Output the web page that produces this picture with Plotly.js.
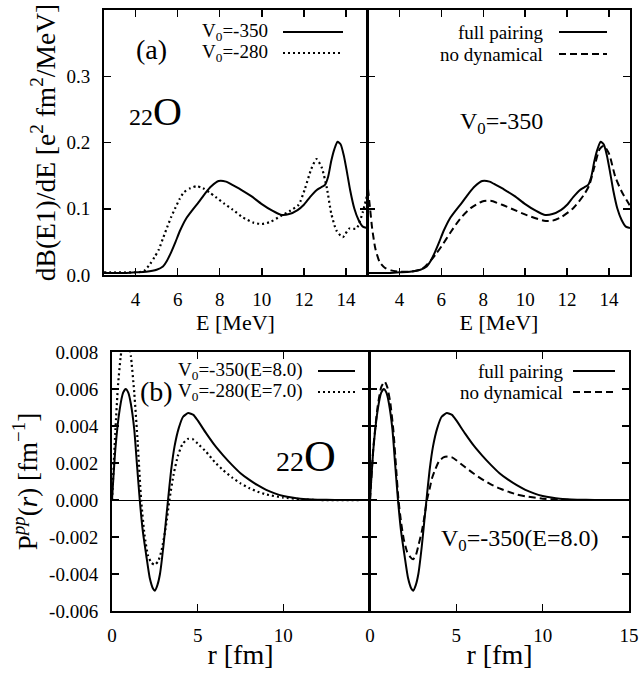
<!DOCTYPE html>
<html>
<head>
<meta charset="utf-8">
<script src="https://cdn.plot.ly/plotly-3.0.1.min.js"></script>
<style>html,body{margin:0;padding:0;background:#fff;}#chart{width:640px;height:673px;}</style>
</head>
<body>
<div id="chart"></div>
<script>
// ---------- Data: panel (a) dB(E1)/dE vs E ----------
const E_v350 = [2.5,3.0,3.5,4.0,4.5,5.0,5.3,5.5,5.7,5.9,6.1,6.4,6.7,7.0,7.3,7.6,7.95,8.3,8.6,9.0,9.5,10.0,10.5,10.9,11.3,11.7,12.0,12.3,12.6,12.8,13.0,13.15,13.3,13.45,13.6,13.75,13.9,14.05,14.2,14.4,14.6,14.8,15.0];
const B_v350 = [0.003,0.003,0.003,0.004,0.005,0.008,0.013,0.022,0.035,0.050,0.066,0.085,0.098,0.110,0.123,0.134,0.142,0.141,0.136,0.129,0.119,0.107,0.097,0.091,0.092,0.098,0.106,0.118,0.128,0.132,0.136,0.148,0.172,0.190,0.201,0.197,0.180,0.155,0.128,0.100,0.083,0.073,0.071];

const E_v280 = [2.5,3.0,3.5,4.0,4.4,4.7,4.9,5.1,5.3,5.5,5.7,5.9,6.1,6.3,6.6,6.9,7.2,7.5,7.8,8.2,8.6,9.1,9.6,10.0,10.4,10.9,11.35,11.75,12.05,12.35,12.6,12.85,13.1,13.3,13.55,13.85,14.15,14.5,14.8,15.0];
const B_v280 = [0.004,0.004,0.004,0.004,0.006,0.017,0.027,0.038,0.055,0.072,0.088,0.102,0.115,0.125,0.131,0.134,0.131,0.125,0.118,0.108,0.099,0.087,0.079,0.077,0.080,0.089,0.097,0.106,0.130,0.160,0.175,0.162,0.130,0.093,0.067,0.057,0.070,0.070,0.095,0.120];

const E_nodyn = [2.5,2.6,2.7,2.85,3.05,3.3,3.6,4.0,4.5,5.0,5.2,5.5,5.75,6.0,6.45,6.9,7.4,7.95,8.35,8.9,9.35,10.1,10.9,11.3,11.7,12.3,12.8,13.05,13.3,13.55,13.75,14.0,14.3,14.6,14.95,15.0];
const B_nodyn = [0.130,0.100,0.070,0.040,0.020,0.011,0.007,0.005,0.005,0.008,0.012,0.022,0.032,0.043,0.065,0.085,0.101,0.111,0.112,0.106,0.100,0.090,0.082,0.082,0.087,0.101,0.121,0.135,0.163,0.190,0.195,0.183,0.148,0.126,0.107,0.104];

// ---------- Data: panel (b) P^pp(r) vs r ----------
const r_v350 = [0,0.2,0.45,0.65,0.8,0.95,1.1,1.3,1.45,1.62,1.8,2.0,2.2,2.4,2.5,2.65,2.8,3.0,3.15,3.27,3.45,3.65,3.9,4.15,4.45,4.75,5.0,5.5,6.0,6.5,7.0,7.5,8.0,8.5,9.0,9.5,10.0,10.5,11.0,12.0,13.0,15.0];
const P_v350 = [0,0.0028,0.0049,0.0058,0.0060,0.0058,0.0052,0.0038,0.0020,0,-0.0017,-0.0030,-0.0042,-0.0048,-0.0049,-0.0046,-0.0040,-0.0025,-0.0011,0,0.0016,0.0029,0.0039,0.0045,0.0047,0.0046,0.0043,0.0036,0.00295,0.0024,0.0019,0.00145,0.0011,0.0008,0.00055,0.00036,0.00022,0.00013,0.00007,0.00002,0,0];

const r_v280 = [0,0.2,0.35,0.5,0.65,0.8,0.95,1.1,1.3,1.5,1.7,1.9,2.1,2.3,2.5,2.7,2.9,3.15,3.35,3.6,3.85,4.1,4.4,4.7,5.0,5.5,6.0,6.5,7.0,7.5,8.0,8.5,9.0,10.0,11.0,12.0,15.0];
const P_v280 = [0,0.0038,0.0062,0.0077,0.0087,0.0090,0.0087,0.0078,0.0058,0.0031,0,-0.0019,-0.0030,-0.0034,-0.0035,-0.0033,-0.0027,-0.0014,0,0.0014,0.0024,0.0030,0.0033,0.0033,0.00305,0.0026,0.00205,0.0016,0.00122,0.0009,0.00065,0.00045,0.0003,0.00013,0.00004,0,0];

const r_nodyn = [0,0.2,0.45,0.65,0.85,1.0,1.17,1.36,1.5,1.65,1.8,1.95,2.15,2.35,2.5,2.65,2.82,3.0,3.1,3.3,3.45,3.6,3.8,4.0,4.25,4.5,4.75,5.0,5.5,6.0,6.5,7.0,7.5,8.0,8.5,9.0,10.0,11.0,12.0,15.0];
const P_nodyn = [0,0.0029,0.0051,0.0061,0.0064,0.0061,0.0053,0.0037,0.0019,0,-0.0012,-0.0021,-0.0028,-0.0031,-0.0032,-0.0030,-0.0024,-0.0017,-0.0012,0,0.0006,0.0012,0.0017,0.0021,0.0023,0.00235,0.0023,0.00215,0.00178,0.00143,0.00112,0.00085,0.00063,0.00045,0.0003,0.0002,0.00007,0.00002,0,0];

// ---------- Labels / ticks ----------
const nameV350 = "V<sub>0</sub>=-350";
const nameV280 = "V<sub>0</sub>=-280";
const nameFull = "full pairing";
const nameNoDyn = "no dynamical";
const nameV350b = "V<sub>0</sub>=-350(E=8.0)";
const nameV280b = "V<sub>0</sub>=-280(E=7.0)";
const topYTicks = [0, 0.1, 0.2, 0.3, 0.4];
const topYText = ["0.0", "0.1", "0.2", "0.3", "0.4"];
const topXTicks = [4, 6, 8, 10, 12, 14];
const botYTicks = [-0.006, -0.004, -0.002, 0, 0.002, 0.004, 0.006, 0.008];
const botYText = ["-0.006", "-0.004", "-0.002", "0.000", "0.002", "0.004", "0.006", "0.008"];
const botXTicksL = [0, 5, 10];
const botXTicksR = [0, 5, 10, 15];

const FONT = "Liberation Serif, Times New Roman, serif";
const W = 640, H = 673;
const px = x => x / W;
const py = y => 1 - y / H;

const solidLine = {color: "black", width: 2};
const dotLine = {color: "black", width: 2.2, dash: "2px,3px"};
const dashLine = {color: "black", width: 2, dash: "7px,4px"};

const traces = [
  {x: E_v350, y: B_v350, xaxis: "x", yaxis: "y", name: nameV350, mode: "lines", line: Object.assign({shape: "spline", smoothing: 0.6}, solidLine)},
  {x: E_v280, y: B_v280, xaxis: "x", yaxis: "y", name: nameV280, mode: "lines", line: Object.assign({shape: "spline", smoothing: 0.6}, dotLine)},
  {x: E_v350, y: B_v350, xaxis: "x2", yaxis: "y2", name: nameFull, mode: "lines", line: Object.assign({shape: "spline", smoothing: 0.6}, solidLine)},
  {x: E_nodyn, y: B_nodyn, xaxis: "x2", yaxis: "y2", name: nameNoDyn, mode: "lines", line: Object.assign({shape: "spline", smoothing: 0.6}, dashLine)},
  {x: r_v350, y: P_v350, xaxis: "x3", yaxis: "y3", name: nameV350b, mode: "lines", line: Object.assign({shape: "spline", smoothing: 0.5}, solidLine)},
  {x: r_v280, y: P_v280, xaxis: "x3", yaxis: "y3", name: nameV280b, mode: "lines", line: Object.assign({shape: "spline", smoothing: 0.5}, dotLine)},
  {x: r_v350, y: P_v350, xaxis: "x4", yaxis: "y4", name: nameFull, mode: "lines", line: Object.assign({shape: "spline", smoothing: 0.5}, solidLine)},
  {x: r_nodyn, y: P_nodyn, xaxis: "x4", yaxis: "y4", name: nameNoDyn, mode: "lines", line: Object.assign({shape: "spline", smoothing: 0.5}, dashLine)}
];

const tickFont = {family: FONT, size: 19, color: "black"};
function axisBase(extra) {
  return Object.assign({
    showline: true, linecolor: "black", linewidth: 2, mirror: "ticks",
    ticks: "inside", ticklen: 7, tickwidth: 1.5, tickcolor: "black",
    showgrid: false, zeroline: false, tickfont: tickFont, fixedrange: true
  }, extra);
}

const layout = {
  width: W, height: H,
  margin: {l: 0, r: 0, t: 0, b: 0},
  paper_bgcolor: "white", plot_bgcolor: "white",
  showlegend: false,
  font: {family: FONT, color: "black"},
  xaxis: axisBase({domain: [px(104), px(367)], range: [2.5, 15], anchor: "y", tickvals: topXTicks, ticklabelstandoff: 6,
    title: {text: "E [MeV]", font: {family: FONT, size: 22}, standoff: 4}}),
  yaxis: axisBase({domain: [py(275), py(10)], range: [0, 0.4], anchor: "x", tickvals: topYTicks, ticktext: topYText, ticklabelstandoff: 8,
    title: {text: "dB(E1)/dE [e<sup>2</sup> fm<sup>2</sup>/MeV]", font: {family: FONT, size: 27.5}, standoff: 3}}),
  xaxis2: axisBase({domain: [px(368), px(630)], range: [2.5, 15], anchor: "y2", tickvals: topXTicks, ticklabelstandoff: 6,
    title: {text: "E [MeV]", font: {family: FONT, size: 22}, standoff: 4}}),
  yaxis2: axisBase({domain: [py(275), py(10)], range: [0, 0.4], anchor: "x2", tickvals: topYTicks, showticklabels: false}),
  xaxis3: axisBase({domain: [px(112), px(369)], range: [0, 15], anchor: "y3", tickvals: botXTicksL, ticklabelstandoff: 6,
    title: {text: "r [fm]", font: {family: FONT, size: 28}, standoff: 0}}),
  yaxis3: axisBase({domain: [py(611), py(352)], range: [-0.006, 0.008], anchor: "x3", tickvals: botYTicks, ticktext: botYText, ticklabelstandoff: 8,
    zeroline: true, zerolinecolor: "black", zerolinewidth: 1,
    title: {text: "P<sup><i>pp</i></sup>(<i>r</i>) [fm<sup>\u22121</sup>]", font: {family: FONT, size: 27}, standoff: 4}}),
  xaxis4: axisBase({domain: [px(370), px(629)], range: [0, 15], anchor: "y4", tickvals: botXTicksR, ticklabelstandoff: 6,
    title: {text: "r [fm]", font: {family: FONT, size: 28}, standoff: 0}}),
  yaxis4: axisBase({domain: [py(611), py(352)], range: [-0.006, 0.008], anchor: "x4", tickvals: botYTicks, showticklabels: false,
    zeroline: true, zerolinecolor: "black", zerolinewidth: 1}),
  annotations: [],
  shapes: []
};

function legendEntry(label, textRight, lineX0, lineX1, y, line) {
  layout.annotations.push({xref: "paper", yref: "paper", x: px(textRight), y: py(y), xanchor: "right", yanchor: "middle",
    text: label, showarrow: false, font: {family: FONT, size: 19, color: "black"}});
  layout.shapes.push({type: "line", xref: "paper", yref: "paper", x0: px(lineX0), x1: px(lineX1), y0: py(y), y1: py(y), line: line});
}
legendEntry(nameV350, 270, 283, 343, 32, solidLine);
legendEntry(nameV280, 270, 283, 343, 53, dotLine);
legendEntry(nameFull, 545, 559, 607, 32, solidLine);
legendEntry(nameNoDyn, 545, 559, 607, 54, dashLine);
legendEntry(nameV350b, 305, 318, 355, 371, solidLine);
legendEntry(nameV280b, 305, 318, 355, 392, dotLine);
legendEntry(nameFull, 565, 573, 615, 371, solidLine);
legendEntry(nameNoDyn, 565, 573, 615, 392, dashLine);

function note(text, x, y, size, xanchor) {
  layout.annotations.push({xref: "paper", yref: "paper", x: px(x), y: py(y), xanchor: xanchor || "center", yanchor: "middle",
    text: text, showarrow: false, font: {family: FONT, size: size, color: "black"}});
}
note("(a)", 151, 50, 28);
note("<span style='font-size:24px'>22</span>O", 127, 112, 40, "left");
note("V<sub>0</sub>=-350", 501, 123, 24);
note("(b)", 156, 391, 28);
note("<span style='font-size:28px'>22</span>O", 274, 456, 44, "left");
note("V<sub>0</sub>=-350(E=8.0)", 519, 540, 24);

Plotly.newPlot("chart", traces, layout, {staticPlot: true, displayModeBar: false});
</script>
</body>
</html>
